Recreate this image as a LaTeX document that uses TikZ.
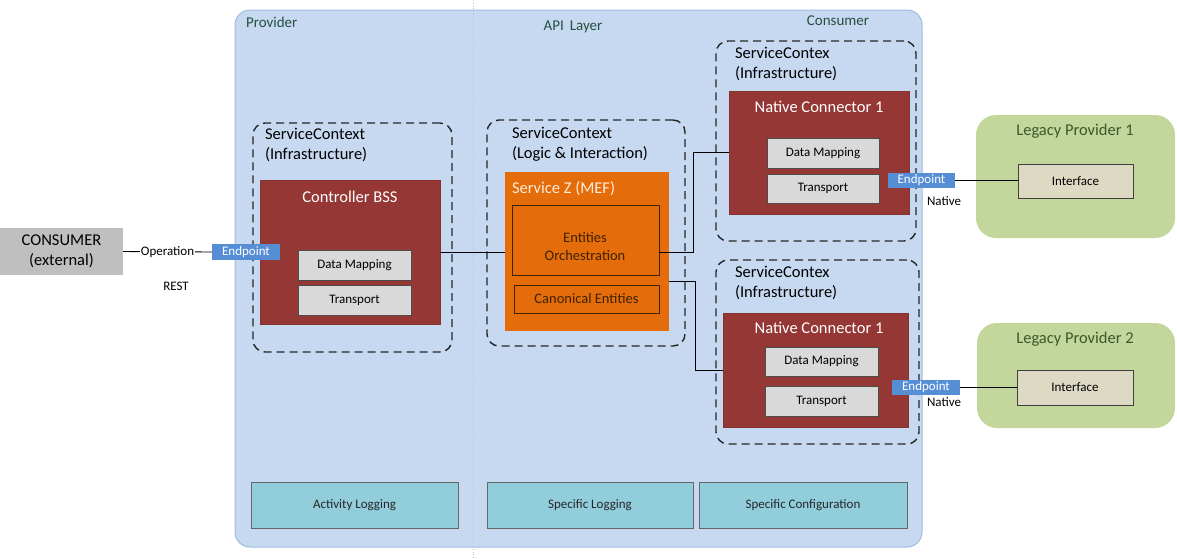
\documentclass[tikz,border=0pt]{standalone}
\usepackage{fontspec}
\setmainfont{Carlito}
\definecolor{bluebg}{HTML}{C6D9F1}
\definecolor{blueline}{HTML}{9FBBE0}
\definecolor{darkred}{HTML}{953734}
\definecolor{orangeZ}{HTML}{E46C0A}
\definecolor{grayfill}{HTML}{D9D9D9}
\definecolor{epblue}{HTML}{558ED5}
\definecolor{tealfill}{HTML}{92CDDC}
\definecolor{greenfill}{HTML}{C3D69B}
\definecolor{ifacefill}{HTML}{DDD9C3}
\definecolor{consgray}{HTML}{BFBFBF}
\definecolor{labgreen}{HTML}{254F3E}
\definecolor{leggreen}{HTML}{3A5A2C}
\definecolor{brownt}{HTML}{3F2200}
\newcommand\rbox[7]{\node[#1, minimum width=#5pt-#3pt, minimum height=#6pt-#4pt] (#2) at ({(#3+#5)/2},{(#4+#6)/2}) {#7};}
\tikzset{
  every node/.style={inner sep=0pt, outer sep=0pt},
  bigfont/.style={font=\fontsize{16.5}{20}\selectfont},
  smallfont/.style={font=\fontsize{13}{15}\selectfont},
  zone/.style={draw=blueline, fill=bluebg, rounded corners=15pt, line width=1pt},
  ctx/.style={draw=black!85, dashed, dash pattern=on 8pt off 5pt, rounded corners=12pt, line width=1.4pt},
  redbox/.style={fill=darkred, draw=darkred!90!black, line width=0.6pt},
  graybox/.style={fill=grayfill, draw=black!70, line width=1pt, smallfont},
  endpoint/.style={fill=epblue, text=white, smallfont},
  tealbox/.style={fill=tealfill, draw=black!60, line width=1pt, smallfont, text=black!85},
  legacy/.style={fill=greenfill, rounded corners=20pt},
  iface/.style={fill=ifacefill, draw=black!75, line width=1pt, smallfont},
  conn/.style={draw=black, line width=0.9pt},
  title/.style={bigfont, text=white},
}
\begin{document}
\begin{tikzpicture}[x=1pt, y=-1pt]
\fill[white] (0,0) rectangle (1177,558);
\useasboundingbox (0,0) rectangle (1177,558);
% zone
\rbox{zone}{zone}{235}{10}{922}{547}{}
\draw[black!25, dotted, line width=0.8pt] (473,0) -- (473,558);
\node[bigfont, text=labgreen, anchor=west, font=\fontsize{15}{18}\selectfont] (lprov) at (246,22) {Provider};
\node[bigfont, text=labgreen, font=\fontsize{15}{18}\selectfont] (lapi) at (573,27) {API\, Layer};
\node[bigfont, text=labgreen, font=\fontsize{15}{18}\selectfont] (lcons) at (838,21) {Consumer};
% consumer external
\rbox{fill=consgray, bigfont, align=center}{cons}{0}{228}{123}{275}{CONSUMER\\(external)}
% dashed contexts
\rbox{ctx}{ctx1}{253}{123}{452}{352}{}
\rbox{ctx}{ctx2}{487}{120}{685}{346}{}
\rbox{ctx}{ctx3}{716}{41}{916}{241}{}
\rbox{ctx}{ctx4}{716}{260}{919}{444}{}
\node[bigfont, anchor=north west, align=left] (t1) at (265,128) {ServiceContext\\(Infrastructure)};
\node[bigfont, anchor=north west, align=left] (t2) at (512,127) {ServiceContext\\(Logic \& Interaction)};
\node[bigfont, anchor=north west, align=left] (t3) at (735,47) {ServiceContex\\(Infrastructure)};
\node[bigfont, anchor=north west, align=left] (t4) at (735,266) {ServiceContex\\(Infrastructure)};
% controller BSS
\rbox{redbox}{ctrl}{260}{180}{440}{324}{}
\node[title] (ctrlt) at (350,197) {Controller BSS};
\rbox{graybox}{dm1}{298}{250}{411}{280}{Data Mapping}
\rbox{graybox}{tr1}{298}{285}{411}{315}{Transport}
% service Z
\rbox{fill=orangeZ}{svcz}{505}{172}{669}{331}{}
\node[bigfont, text=orange!15, anchor=west] (svczt) at (512,189) {Service Z (MEF)};
\rbox{draw=brownt, line width=1pt}{ent}{512}{205}{659}{275}{}
\node[text=brownt, align=center, font=\fontsize{14.5}{18}\selectfont] (entt) at (585,247) {Entities\\Orchestration};
\rbox{draw=brownt, line width=1pt, text=brownt, font=\fontsize{14.5}{18}\selectfont}{canon}{514}{285}{659}{313}{Canonical Entities}
% native connector 1
\rbox{redbox}{nc1}{729}{91}{909}{214}{}
\node[title] (nc1t) at (819,107) {Native Connector 1};
\rbox{graybox}{dm2}{767}{138}{879}{168}{Data Mapping}
\rbox{graybox}{tr2}{767}{174}{879}{203}{Transport}
% native connector 2
\rbox{redbox}{nc2}{723}{313}{908}{427}{}
\node[title] (nc2t) at (819,328) {Native Connector 1};
\rbox{graybox}{dm3}{765}{347}{878}{376}{Data Mapping}
\rbox{graybox}{tr3}{765}{386}{878}{416}{Transport}
% legacy
\rbox{legacy}{leg1}{976}{115}{1175}{238}{}
\node[bigfont, text=leggreen] (leg1t) at (1075,131) {Legacy Provider 1};
\rbox{iface}{if1}{1018}{164}{1133}{198}{Interface}
\rbox{legacy}{leg2}{977}{323}{1175}{428}{}
\node[bigfont, text=leggreen] (leg2t) at (1075,339) {Legacy Provider 2};
\rbox{iface}{if2}{1017}{370}{1133}{405}{Interface}
% bottom boxes
\rbox{tealbox}{al}{251}{482}{458}{528}{Activity Logging}
\rbox{tealbox}{sl}{487}{482}{693}{528}{Specific Logging}
\rbox{tealbox}{sc}{699}{482}{907}{528}{Specific Configuration}
% endpoints
\rbox{endpoint}{ep1}{212}{244}{280}{260}{Endpoint}
\rbox{endpoint}{ep2}{888}{173}{955}{188}{Endpoint}
\rbox{endpoint}{ep3}{892}{380}{960}{395}{Endpoint}
\node[smallfont] (nat1) at (944,201) {Native};
\node[smallfont] (nat2) at (944,402) {Native};
\node[smallfont] (rest) at (176,286) {REST};
% connectors
\draw[conn] (cons.east) -- (ep1.west) node[midway, fill=white, inner sep=1pt, smallfont] {Operation};
\draw[conn] (ctrl.east) -- (ctrl.east -| svcz.west);
\draw[conn] (ent.east |- ctrl.east) -- ++(34,0) |- (nc1.west);
\draw[conn] ([yshift=-30pt]svcz.east) -- ++(26,0) |- (nc2.west);
\draw[conn] (ep2.east) -- (ep2.east -| if1.west);
\draw[conn] (ep3.east) -- (if2.west);
\end{tikzpicture}
\end{document}
